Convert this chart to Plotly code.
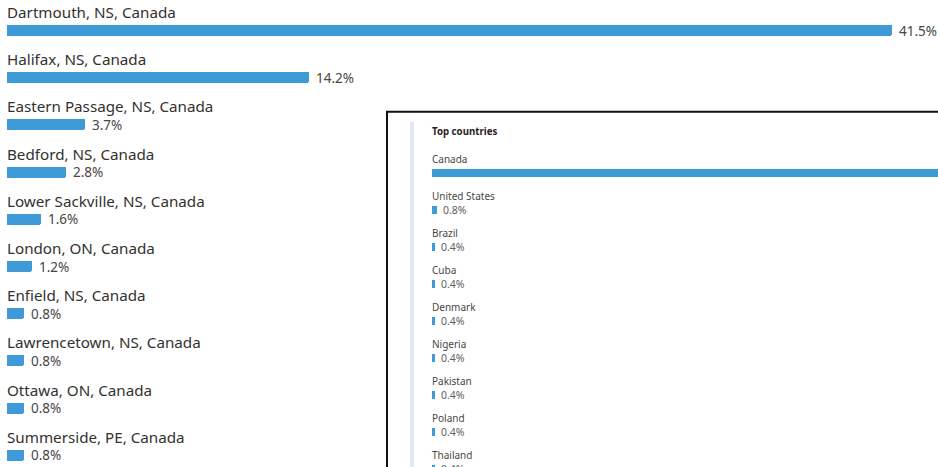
import plotly.graph_objects as go

# ---- data ----
cities = ["Dartmouth, NS, Canada", "Halifax, NS, Canada", "Eastern Passage, NS, Canada",
          "Bedford, NS, Canada", "Lower Sackville, NS, Canada", "London, ON, Canada",
          "Enfield, NS, Canada", "Lawrencetown, NS, Canada", "Ottawa, ON, Canada",
          "Summerside, PE, Canada"]
city_pct = [41.5, 14.2, 3.7, 2.8, 1.6, 1.2, 0.8, 0.8, 0.8, 0.8]

inset_title = "Top countries"
countries = ["Canada", "United States", "Brazil", "Cuba", "Denmark", "Nigeria",
             "Pakistan", "Poland", "Thailand"]
country_pct = [96.4, 0.8, 0.4, 0.4, 0.4, 0.4, 0.4, 0.4, 0.4]

# ---- layout constants (pixels) ----
W, H = 938, 467
BLUE = "#3f9bd7"
FONT = "Noto Sans"

# main chart geometry
m_x0, m_scale = 6.5, 21.33         # px of value 0, px per %
m_row, m_top = 47.2, 30.5          # row spacing, centre of first bar
m_label_up = 18.5
# inset geometry
i_x0, i_scale = 432, 6.6
i_row, i_top = 37.0, 173.0
i_box_top = 112
i_label_up = 14.0

fig = go.Figure()

fig.add_trace(go.Bar(
    x=city_pct, y=list(range(len(cities))), orientation="h",
    marker=dict(color=BLUE, cornerradius=2, line=dict(width=0)),
    width=11 / m_row, xaxis="x", yaxis="y", hoverinfo="skip",
))
fig.add_trace(go.Bar(
    x=country_pct, y=list(range(len(countries))), orientation="h",
    marker=dict(color=BLUE, cornerradius=1, line=dict(width=0)),
    width=8.5 / i_row, xaxis="x2", yaxis="y2", hoverinfo="skip",
))

ann = []
for i, (c, v) in enumerate(zip(cities, city_pct)):
    ann.append(dict(x=0, y=i - m_label_up / m_row, xref="x", yref="y", text=c,
                    showarrow=False, xanchor="left", yanchor="middle", xshift=-2,
                    font=dict(family=FONT, size=15.2, color="#323130")))
    ann.append(dict(x=v, y=i, xref="x", yref="y", text=f"{v}%",
                    showarrow=False, xanchor="left", yanchor="middle", xshift=5,
                    font=dict(family=FONT, size=13.5, color="#484644")))
for i, (c, v) in enumerate(zip(countries, country_pct)):
    ann.append(dict(x=0, y=i - i_label_up / i_row, xref="x2", yref="y2", text=c,
                    showarrow=False, xanchor="left", yanchor="middle", xshift=-2,
                    font=dict(family=FONT, size=10, color="#484644")))
    # anchored half a row higher (so it stays inside the axis range), shifted back down
    ann.append(dict(x=v, y=i - 0.5, xref="x2", yref="y2", text=f"{v}%",
                    showarrow=False, xanchor="left", yanchor="middle", xshift=4,
                    yshift=-0.5 * i_row,
                    font=dict(family=FONT, size=10.5, color="#605e5c")))
ann.append(dict(x=i_x0 / W, y=1 - 131 / H, xref="paper", yref="paper", text=f"<b>{inset_title}</b>",
                showarrow=False, xanchor="left", yanchor="middle", xshift=-2,
                font=dict(family=FONT, size=9.7, color="#252423")))

shapes = [
    dict(type="rect", xref="paper", yref="paper", layer="below",
         x0=387 / W, x1=1.05, y0=-0.05, y1=1 - 111.7 / H,
         fillcolor="white", line=dict(color="#111111", width=2)),
    dict(type="rect", xref="paper", yref="paper", layer="below",
         x0=410 / W, x1=414 / W, y0=-0.05, y1=1 - 122 / H,
         fillcolor="#dde9f6", line=dict(width=0)),
]

m_ytop = -m_top / m_row
i_ytop = -(i_top - i_box_top) / i_row
fig.update_layout(
    width=W, height=H, margin=dict(l=0, r=0, t=0, b=0),
    paper_bgcolor="white", plot_bgcolor="rgba(0,0,0,0)",
    showlegend=False, bargap=0,
    xaxis=dict(domain=[0, 1], range=[-m_x0 / m_scale, (W - m_x0) / m_scale],
               visible=False, fixedrange=True),
    yaxis=dict(domain=[0, 1], range=[m_ytop + H / m_row, m_ytop],
               visible=False, fixedrange=True),
    xaxis2=dict(domain=[i_x0 / W, 1], range=[0, (W - i_x0) / i_scale],
                visible=False, anchor="y2", fixedrange=True),
    yaxis2=dict(domain=[0, 1 - i_box_top / H],
                range=[i_ytop + (H - i_box_top) / i_row, i_ytop],
                visible=False, anchor="x2", fixedrange=True),
    annotations=ann, shapes=shapes,
)

fig.write_html(
    "out.html",
    config={"displayModeBar": False},
    post_script="document.body.style.margin='0';document.body.style.overflow='hidden';",
)
